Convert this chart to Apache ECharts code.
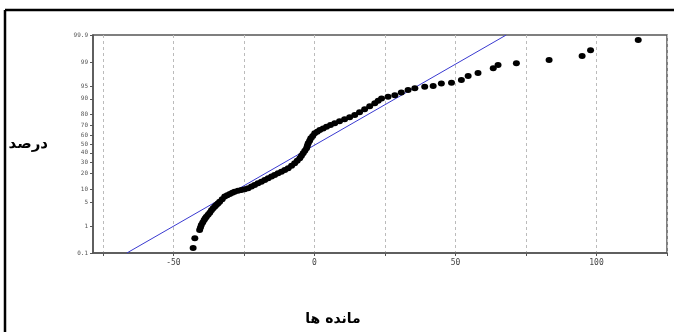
<!DOCTYPE html>
<html>
<head>
<meta charset="utf-8">
<script src="https://cdn.jsdelivr.net/npm/echarts@6/dist/echarts.min.js"></script>
<style>
	html, body { margin: 0; padding: 0; background: #fff; }
	#main { width: 674px; height: 332px; }
</style>
</head>
<body>
<div id="main"></div>
<script>
// residuals (x) and cumulative percent (y)
var residuals = [-43.0, -42.4, -40.7, -40.4, -40.1, -39.6, -39.1, -38.7, -38.3, -37.7,
	-37.1, -36.5, -35.9, -35.3, -34.8, -34.2, -33.6, -32.7, -31.8, -30.9,
	-30.0, -29.1, -28.3, -27.1, -25.9, -24.7, -23.5, -22.3, -21.2, -20.0,
	-18.8, -17.6, -16.4, -15.2, -14.1, -12.9, -11.7, -10.5, -9.3, -8.1,
	-7.0, -6.1, -5.2, -4.6, -4.0, -3.4, -2.8, -2.5, -2.2, -1.7,
	-1.3, -0.6, 0.1, 1.0, 1.9, 3.1, 4.3, 5.7, 7.2, 8.9,
	10.7, 12.5, 14.3, 16.0, 17.8, 19.6, 21.4, 22.6, 23.8, 26.1,
	28.5, 30.8, 33.2, 35.6, 39.1, 42.1, 45.0, 48.6, 52.1, 54.5,
	58.0, 63.4, 65.1, 71.6, 83.2, 94.9, 97.9, 114.8];
var percents = [0.16, 0.38, 0.74, 0.9, 1.09, 1.3, 1.57, 1.75, 1.97, 2.25,
	2.58, 3.0, 3.42, 3.8, 4.2, 4.6, 5.1, 5.9, 6.8, 7.3,
	7.8, 8.3, 8.8, 9.2, 9.6, 10.0, 10.5, 11.4, 12.3, 13.3,
	14.3, 15.4, 16.6, 17.8, 19.0, 20.3, 21.6, 23.0, 24.6, 26.8,
	29.2, 31.7, 34.3, 37.0, 39.6, 42.3, 45.1, 48.0, 50.8, 53.6,
	56.4, 59.1, 61.9, 63.7, 65.4, 67.1, 68.8, 70.5, 72.1, 74.0,
	75.8, 77.6, 79.4, 81.6, 83.7, 85.8, 87.6, 89.0, 90.2, 91.0,
	91.7, 92.8, 93.7, 94.3, 94.8, 95.0, 95.7, 95.9, 96.5, 97.3,
	97.8, 98.4, 98.74, 98.9, 99.13, 99.37, 99.61, 99.84];

// fitted normal line (two ends)
var fitResiduals = [-66.5, 68];
var fitPercents = [0.1, 99.9];

var percentTicks = [0.1, 1, 5, 10, 20, 30, 40, 50, 60, 70, 80, 90, 95, 99, 99.9];
var residualTicks = [-75, -50, -25, 0, 25, 50, 75, 100, 125];
var residualLabels = [-50, 0, 50, 100];

// inverse normal cdf (Acklam), percent -> z
function probit(pct) {
	var p = pct / 100;
	var a = [-39.69683028665376, 220.9460984245205, -275.9285104469687, 138.3577518672690, -30.66479806614716, 2.506628277459239];
	var b = [-54.47609879822406, 161.5858368580409, -155.6989798598866, 66.80131188771972, -13.28068155288572];
	var c = [-0.007784894002430293, -0.3223964580411365, -2.400758277161838, -2.549732539343734, 4.374664141464968, 2.938163982698783];
	var d = [0.007784695709041462, 0.3224671290700398, 2.445134137142996, 3.754408661907416];
	var q, r;
	if (p < 0.02425) {
		q = Math.sqrt(-2 * Math.log(p));
		return (((((c[0]*q+c[1])*q+c[2])*q+c[3])*q+c[4])*q+c[5]) / ((((d[0]*q+d[1])*q+d[2])*q+d[3])*q+1);
	}
	if (p > 1 - 0.02425) {
		q = Math.sqrt(-2 * Math.log(1 - p));
		return -(((((c[0]*q+c[1])*q+c[2])*q+c[3])*q+c[4])*q+c[5]) / ((((d[0]*q+d[1])*q+d[2])*q+d[3])*q+1);
	}
	q = p - 0.5;
	r = q * q;
	return (((((a[0]*r+a[1])*r+a[2])*r+a[3])*r+a[4])*r+a[5])*q / (((((b[0]*r+b[1])*r+b[2])*r+b[3])*r+b[4])*r+1);
}

var zTicks = percentTicks.map(probit);
var points = residuals.map(function(v, i) { return [v, probit(percents[i])]; });
var fitLine = fitResiduals.map(function(v, i) { return [v, probit(fitPercents[i])]; });

var myChart = echarts.init(document.getElementById('main'));
var option = {
	backgroundColor: '#fff',
	animation: false,
	grid: {
		left: 93,
		right: 7,
		top: 35,
		bottom: 79,
		show: true,
		borderColor: '#555',
		borderWidth: 1.5
	},
	xAxis: {
		type: 'value',
		min: -78.5,
		max: 125,
		name: 'مانده ها',
		nameLocation: 'middle',
		nameGap: 59,
		nameTextStyle: {
			fontFamily: 'DejaVu Sans',
			fontWeight: 'bold',
			fontSize: 14,
			color: '#000',
			padding: [0, 94, 0, 0]
		},
		axisLine: { onZero: false, lineStyle: { color: '#555', width: 1.5 } },
		axisTick: {
			length: 3,
			customValues: residualTicks,
			lineStyle: { color: '#555' }
		},
		axisLabel: {
			customValues: residualLabels,
			fontSize: 8,
			fontFamily: 'DejaVu Sans Mono',
			color: '#444',
			margin: 6
		},
		splitLine: {
			show: true,
			lineStyle: { color: '#bbb', type: [3, 3], width: 1 }
		}
	},
	yAxis: {
		type: 'value',
		min: probit(0.1),
		max: probit(99.9),
		name: 'درصد',
		nameLocation: 'middle',
		nameRotate: 0,
		nameGap: 45,
		nameTextStyle: {
			fontFamily: 'DejaVu Sans',
			fontWeight: 'bold',
			fontSize: 15,
			color: '#000',
			padding: [0, 0, 14, 0]
		},
		axisLine: { show: true, onZero: false, lineStyle: { color: '#555', width: 1.5 } },
		axisTick: {
			show: true,
			length: 3,
			customValues: zTicks,
			lineStyle: { color: '#555' }
		},
		axisLabel: {
			customValues: zTicks,
			fontSize: 6,
			fontFamily: 'DejaVu Sans Mono',
			color: '#555',
			margin: 5,
			formatter: function(v) {
				var best = 0;
				for (var i = 0; i < zTicks.length; i++) {
					if (Math.abs(zTicks[i] - v) < Math.abs(zTicks[best] - v)) best = i;
				}
				return String(percentTicks[best]);
			}
		},
		splitLine: { show: false }
	},
	graphic: [
		{ type: 'line', shape: { x1: 5, y1: 10, x2: 674, y2: 10 }, style: { stroke: '#000', lineWidth: 2.5 } },
		{ type: 'line', shape: { x1: 5, y1: 10, x2: 5, y2: 332 }, style: { stroke: '#000', lineWidth: 2.5 } }
	],
	series: [
		{
			type: 'line',
			data: fitLine,
			symbol: 'none',
			lineStyle: { color: '#3a3ad0', width: 1 },
			z: 2
		},
		{
			type: 'scatter',
			data: points,
			symbol: 'circle',
			symbolSize: [7, 6],
			itemStyle: { color: '#000', opacity: 1 },
			z: 3
		}
	]
};
myChart.setOption(option);
</script>
</body>
</html>
